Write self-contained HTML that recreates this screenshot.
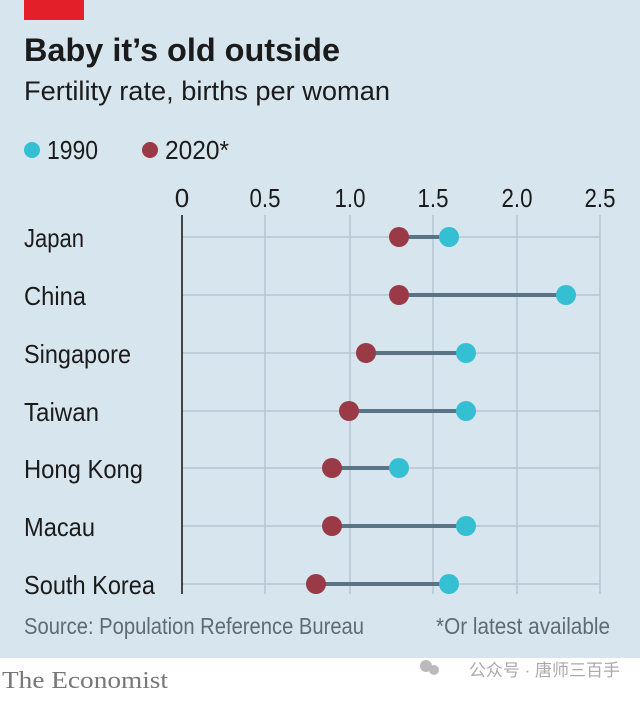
<!DOCTYPE html>
<html><head><meta charset="utf-8"><style>
body{margin:0;width:640px;height:696px;overflow:hidden;background:#fff}
svg text{font-family:"Liberation Sans",sans-serif}
</style></head><body>
<svg width="640" height="696" xmlns="http://www.w3.org/2000/svg">
<rect x="0" y="0" width="640" height="658" fill="#d7e5ee"/>
<rect x="24" y="0" width="60" height="20" fill="#e3202a"/>
<text x="24" y="61" font-weight="bold" font-size="32" fill="#1b1b1b" textLength="316" lengthAdjust="spacingAndGlyphs">Baby it’s old outside</text>
<text x="24" y="100" font-size="27" fill="#1b1b1b" textLength="366" lengthAdjust="spacingAndGlyphs">Fertility rate, births per woman</text>
<circle cx="32" cy="150" r="8" fill="#35bfd3"/>
<text x="47" y="159" font-size="26" fill="#1b1b1b" textLength="51" lengthAdjust="spacingAndGlyphs">1990</text>
<circle cx="150" cy="150" r="8" fill="#993a46"/>
<text x="165" y="159" font-size="26" fill="#1b1b1b" textLength="64" lengthAdjust="spacingAndGlyphs">2020*</text>
<g font-size="26" fill="#1b1b1b" text-anchor="middle">
<text x="182" y="207">0</text>
<text x="265" y="207" textLength="31" lengthAdjust="spacingAndGlyphs">0.5</text>
<text x="350" y="207" textLength="31" lengthAdjust="spacingAndGlyphs">1.0</text>
<text x="433" y="207" textLength="31" lengthAdjust="spacingAndGlyphs">1.5</text>
<text x="517" y="207" textLength="31" lengthAdjust="spacingAndGlyphs">2.0</text>
<text x="600" y="207" textLength="31" lengthAdjust="spacingAndGlyphs">2.5</text>
</g>
<g stroke="#b6c6d1" stroke-width="1.5">
<line x1="265" y1="215" x2="265" y2="594"/><line x1="350" y1="215" x2="350" y2="594"/><line x1="433" y1="215" x2="433" y2="594"/><line x1="517" y1="215" x2="517" y2="594"/><line x1="600" y1="215" x2="600" y2="594"/>
<line x1="182" y1="237" x2="600" y2="237"/><line x1="182" y1="295" x2="600" y2="295"/><line x1="182" y1="353" x2="600" y2="353"/><line x1="182" y1="411" x2="600" y2="411"/><line x1="182" y1="468" x2="600" y2="468"/><line x1="182" y1="526" x2="600" y2="526"/><line x1="182" y1="584" x2="600" y2="584"/>
</g>
<line x1="182" y1="215" x2="182" y2="594" stroke="#111" stroke-width="1.5"/>
<g font-size="26" fill="#1b1b1b">
<text x="24" y="247" textLength="60" lengthAdjust="spacingAndGlyphs">Japan</text>
<text x="24" y="305" textLength="62" lengthAdjust="spacingAndGlyphs">China</text>
<text x="24" y="363" textLength="107" lengthAdjust="spacingAndGlyphs">Singapore</text>
<text x="24" y="421" textLength="75" lengthAdjust="spacingAndGlyphs">Taiwan</text>
<text x="24" y="478" textLength="119" lengthAdjust="spacingAndGlyphs">Hong Kong</text>
<text x="24" y="536" textLength="71" lengthAdjust="spacingAndGlyphs">Macau</text>
<text x="24" y="594" textLength="131" lengthAdjust="spacingAndGlyphs">South Korea</text>
</g>
<g stroke="#5b7485" stroke-width="4">
<line x1="399" y1="237" x2="449" y2="237"/><line x1="399" y1="295" x2="566" y2="295"/><line x1="366" y1="353" x2="466" y2="353"/><line x1="349" y1="411" x2="466" y2="411"/><line x1="332" y1="468" x2="399" y2="468"/><line x1="332" y1="526" x2="466" y2="526"/><line x1="316" y1="584" x2="449" y2="584"/>
</g>
<g fill="#993a46">
<circle cx="399" cy="237" r="10"/><circle cx="399" cy="295" r="10"/><circle cx="366" cy="353" r="10"/><circle cx="349" cy="411" r="10"/><circle cx="332" cy="468" r="10"/><circle cx="332" cy="526" r="10"/><circle cx="316" cy="584" r="10"/>
</g>
<g fill="#35bfd3">
<circle cx="449" cy="237" r="10"/><circle cx="566" cy="295" r="10"/><circle cx="466" cy="353" r="10"/><circle cx="466" cy="411" r="10"/><circle cx="399" cy="468" r="10"/><circle cx="466" cy="526" r="10"/><circle cx="449" cy="584" r="10"/>
</g>
<text x="24" y="634" font-size="23" fill="#5f6b73" textLength="340" lengthAdjust="spacingAndGlyphs">Source: Population Reference Bureau</text>
<text x="436" y="634" font-size="23" fill="#5f6b73" textLength="174" lengthAdjust="spacingAndGlyphs">*Or latest available</text>
<text x="2" y="688" font-size="24" fill="#777" style="font-family:'Liberation Serif',serif" textLength="166" lengthAdjust="spacingAndGlyphs">The Economist</text>
<circle cx="426" cy="666" r="6" fill="#bbb"/><circle cx="434" cy="670" r="5" fill="#bbb"/>
<text x="620" y="676" font-size="17" fill="#aaa" text-anchor="end" style="font-family:'Liberation Sans','Noto Sans CJK SC',sans-serif">公众号 · 唐师三百手</text>
</svg>
</body></html>
